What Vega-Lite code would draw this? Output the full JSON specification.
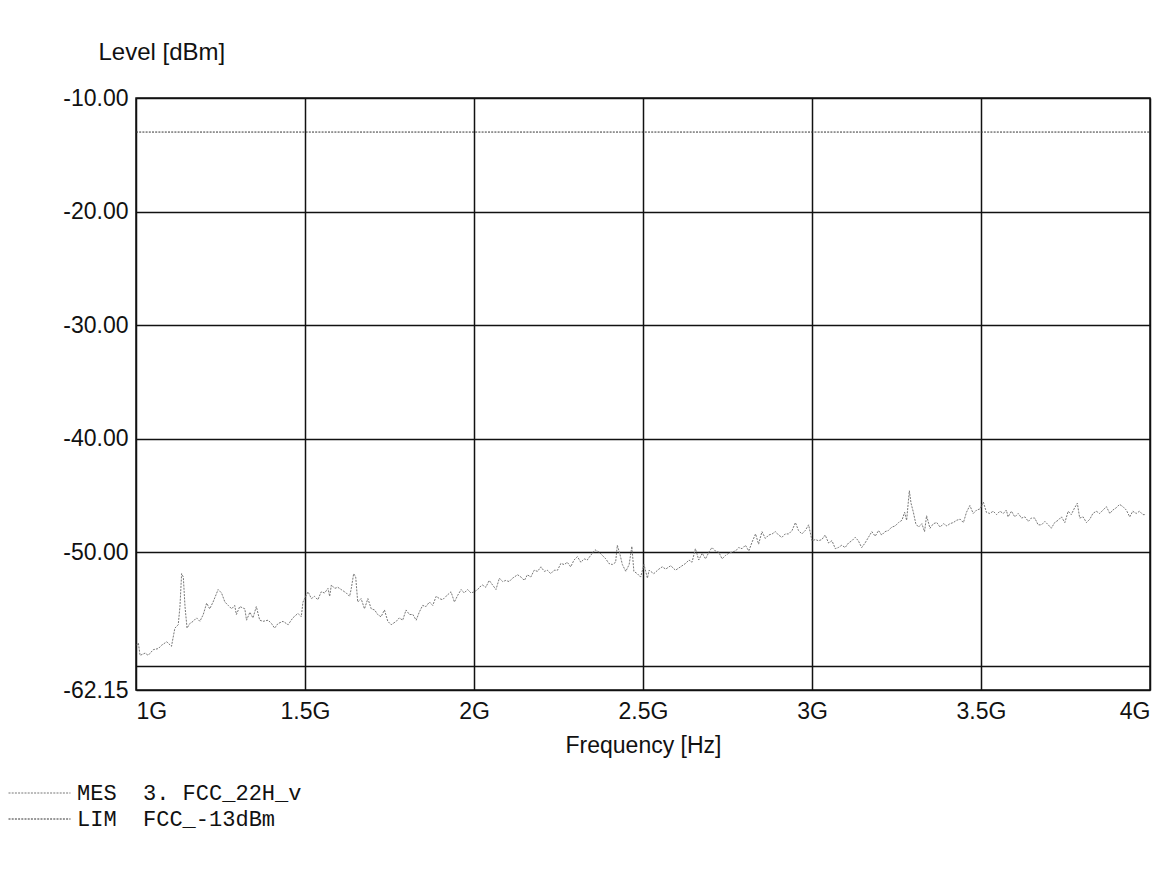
{
  "$schema": "https://vega.github.io/schema/vega-lite/v6.json",
  "width": 1014,
  "height": 592,
  "autosize": {"type": "none"},
  "padding": {"left": 136, "top": 98, "right": 8, "bottom": 203},
  "background": "white",
  "config": {
    "font": "Liberation Sans",
    "view": {"stroke": "#111", "strokeWidth": 1.5},
    "axis": {
      "domain": false, "ticks": false, "tickSize": 0,
      "gridColor": "#111", "gridWidth": 1.5, "gridOpacity": 1,
      "labelFont": "Liberation Sans", "labelFontSize": 23, "labelColor": "#111",
      "titleFont": "Liberation Sans", "titleFontSize": 23, "titleFontWeight": "normal", "titleColor": "#111"
    }
  },
  "data": {"values": [
    {"s":"MES","f":1.002,"v":-58.2},{"s":"MES","f":1.007,"v":-58.0},{"s":"MES","f":1.012,"v":-59.1},{"s":"MES","f":1.027,"v":-58.9},{"s":"MES","f":1.036,"v":-59.1},{"s":"MES","f":1.051,"v":-58.6},{"s":"MES","f":1.066,"v":-58.5},{"s":"MES","f":1.076,"v":-58.2},{"s":"MES","f":1.091,"v":-57.9},{"s":"MES","f":1.105,"v":-58.3},{"s":"MES","f":1.115,"v":-56.7},{"s":"MES","f":1.125,"v":-56.4},{"s":"MES","f":1.130,"v":-54.8},{"s":"MES","f":1.135,"v":-51.9},{"s":"MES","f":1.140,"v":-52.2},{"s":"MES","f":1.145,"v":-54.8},{"s":"MES","f":1.151,"v":-56.7},{"s":"MES","f":1.159,"v":-56.3},{"s":"MES","f":1.169,"v":-56.1},{"s":"MES","f":1.179,"v":-55.8},{"s":"MES","f":1.189,"v":-56.1},{"s":"MES","f":1.199,"v":-55.5},{"s":"MES","f":1.209,"v":-54.5},{"s":"MES","f":1.218,"v":-55.0},{"s":"MES","f":1.228,"v":-54.4},{"s":"MES","f":1.243,"v":-53.3},{"s":"MES","f":1.253,"v":-53.6},{"s":"MES","f":1.263,"v":-54.4},{"s":"MES","f":1.273,"v":-54.7},{"s":"MES","f":1.283,"v":-55.0},{"s":"MES","f":1.292,"v":-54.7},{"s":"MES","f":1.297,"v":-55.5},{"s":"MES","f":1.307,"v":-54.8},{"s":"MES","f":1.322,"v":-55.0},{"s":"MES","f":1.327,"v":-56.0},{"s":"MES","f":1.337,"v":-55.3},{"s":"MES","f":1.346,"v":-55.8},{"s":"MES","f":1.356,"v":-54.8},{"s":"MES","f":1.366,"v":-56.0},{"s":"MES","f":1.376,"v":-56.1},{"s":"MES","f":1.391,"v":-56.0},{"s":"MES","f":1.401,"v":-56.3},{"s":"MES","f":1.410,"v":-56.7},{"s":"MES","f":1.420,"v":-56.3},{"s":"MES","f":1.435,"v":-56.1},{"s":"MES","f":1.450,"v":-56.4},{"s":"MES","f":1.464,"v":-55.8},{"s":"MES","f":1.479,"v":-55.4},{"s":"MES","f":1.489,"v":-55.7},{"s":"MES","f":1.494,"v":-54.4},{"s":"MES","f":1.504,"v":-53.8},
    {"s":"MES","f":1.509,"v":-53.5},{"s":"MES","f":1.519,"v":-54.1},{"s":"MES","f":1.528,"v":-53.9},{"s":"MES","f":1.538,"v":-54.2},{"s":"MES","f":1.548,"v":-53.5},{"s":"MES","f":1.558,"v":-53.6},{"s":"MES","f":1.568,"v":-53.2},{"s":"MES","f":1.573,"v":-53.9},{"s":"MES","f":1.578,"v":-52.9},{"s":"MES","f":1.588,"v":-53.2},{"s":"MES","f":1.597,"v":-53.1},{"s":"MES","f":1.607,"v":-53.3},{"s":"MES","f":1.622,"v":-53.6},{"s":"MES","f":1.632,"v":-53.9},{"s":"MES","f":1.637,"v":-53.2},{"s":"MES","f":1.644,"v":-51.9},{"s":"MES","f":1.650,"v":-52.2},{"s":"MES","f":1.656,"v":-54.4},{"s":"MES","f":1.666,"v":-54.1},{"s":"MES","f":1.676,"v":-55.0},{"s":"MES","f":1.686,"v":-54.1},{"s":"MES","f":1.696,"v":-55.0},{"s":"MES","f":1.706,"v":-55.1},{"s":"MES","f":1.715,"v":-55.5},{"s":"MES","f":1.725,"v":-55.7},{"s":"MES","f":1.735,"v":-55.1},{"s":"MES","f":1.745,"v":-56.1},{"s":"MES","f":1.755,"v":-56.4},{"s":"MES","f":1.770,"v":-56.1},{"s":"MES","f":1.779,"v":-55.8},{"s":"MES","f":1.789,"v":-56.0},{"s":"MES","f":1.799,"v":-55.1},{"s":"MES","f":1.809,"v":-55.5},{"s":"MES","f":1.819,"v":-55.5},{"s":"MES","f":1.829,"v":-56.0},{"s":"MES","f":1.838,"v":-55.3},{"s":"MES","f":1.848,"v":-54.7},{"s":"MES","f":1.858,"v":-54.8},{"s":"MES","f":1.868,"v":-54.4},{"s":"MES","f":1.878,"v":-54.7},{"s":"MES","f":1.888,"v":-53.9},{"s":"MES","f":1.898,"v":-54.1},{"s":"MES","f":1.907,"v":-54.2},{"s":"MES","f":1.917,"v":-53.9},{"s":"MES","f":1.932,"v":-53.5},{"s":"MES","f":1.942,"v":-54.4},{"s":"MES","f":1.952,"v":-53.8},{"s":"MES","f":1.962,"v":-53.3},{"s":"MES","f":1.971,"v":-53.6},{"s":"MES","f":1.981,"v":-53.3},{"s":"MES","f":1.991,"v":-53.6},{"s":"MES","f":2.001,"v":-53.5},{"s":"MES","f":2.011,"v":-53.3},
    {"s":"MES","f":2.016,"v":-53.1},{"s":"MES","f":2.025,"v":-52.9},{"s":"MES","f":2.035,"v":-53.1},{"s":"MES","f":2.045,"v":-52.5},{"s":"MES","f":2.055,"v":-52.9},{"s":"MES","f":2.065,"v":-53.3},{"s":"MES","f":2.075,"v":-52.3},{"s":"MES","f":2.085,"v":-52.6},{"s":"MES","f":2.094,"v":-52.5},{"s":"MES","f":2.104,"v":-52.6},{"s":"MES","f":2.114,"v":-52.3},{"s":"MES","f":2.129,"v":-52.0},{"s":"MES","f":2.139,"v":-52.2},{"s":"MES","f":2.149,"v":-52.5},{"s":"MES","f":2.158,"v":-52.0},{"s":"MES","f":2.168,"v":-52.2},{"s":"MES","f":2.178,"v":-51.6},{"s":"MES","f":2.188,"v":-51.7},{"s":"MES","f":2.198,"v":-51.3},{"s":"MES","f":2.208,"v":-51.7},{"s":"MES","f":2.217,"v":-51.6},{"s":"MES","f":2.227,"v":-51.9},{"s":"MES","f":2.237,"v":-51.6},{"s":"MES","f":2.247,"v":-51.6},{"s":"MES","f":2.257,"v":-51.0},{"s":"MES","f":2.267,"v":-51.1},{"s":"MES","f":2.276,"v":-50.9},{"s":"MES","f":2.286,"v":-51.3},{"s":"MES","f":2.296,"v":-50.7},{"s":"MES","f":2.306,"v":-50.4},{"s":"MES","f":2.316,"v":-50.9},{"s":"MES","f":2.326,"v":-50.6},{"s":"MES","f":2.335,"v":-50.7},{"s":"MES","f":2.345,"v":-50.3},{"s":"MES","f":2.358,"v":-49.8},{"s":"MES","f":2.370,"v":-50.0},{"s":"MES","f":2.380,"v":-50.3},{"s":"MES","f":2.390,"v":-50.6},{"s":"MES","f":2.399,"v":-51.0},{"s":"MES","f":2.409,"v":-51.1},{"s":"MES","f":2.419,"v":-50.9},{"s":"MES","f":2.424,"v":-49.4},{"s":"MES","f":2.431,"v":-50.1},{"s":"MES","f":2.439,"v":-51.1},{"s":"MES","f":2.449,"v":-51.7},{"s":"MES","f":2.459,"v":-51.1},{"s":"MES","f":2.467,"v":-49.5},{"s":"MES","f":2.473,"v":-51.7},{"s":"MES","f":2.483,"v":-51.9},{"s":"MES","f":2.493,"v":-52.2},{"s":"MES","f":2.503,"v":-51.1},{"s":"MES","f":2.513,"v":-52.3},
    {"s":"MES","f":2.518,"v":-51.6},{"s":"MES","f":2.532,"v":-51.9},{"s":"MES","f":2.547,"v":-51.5},{"s":"MES","f":2.557,"v":-51.3},{"s":"MES","f":2.567,"v":-51.5},{"s":"MES","f":2.582,"v":-51.2},{"s":"MES","f":2.596,"v":-51.6},{"s":"MES","f":2.611,"v":-51.3},{"s":"MES","f":2.626,"v":-51.0},{"s":"MES","f":2.636,"v":-50.7},{"s":"MES","f":2.645,"v":-50.9},{"s":"MES","f":2.655,"v":-49.7},{"s":"MES","f":2.665,"v":-50.7},{"s":"MES","f":2.675,"v":-50.1},{"s":"MES","f":2.685,"v":-50.6},{"s":"MES","f":2.695,"v":-50.0},{"s":"MES","f":2.704,"v":-49.6},{"s":"MES","f":2.714,"v":-49.9},{"s":"MES","f":2.724,"v":-50.0},{"s":"MES","f":2.734,"v":-50.6},{"s":"MES","f":2.744,"v":-50.3},{"s":"MES","f":2.754,"v":-50.1},{"s":"MES","f":2.764,"v":-50.0},{"s":"MES","f":2.774,"v":-49.9},{"s":"MES","f":2.783,"v":-49.6},{"s":"MES","f":2.793,"v":-49.7},{"s":"MES","f":2.803,"v":-49.4},{"s":"MES","f":2.813,"v":-49.9},{"s":"MES","f":2.823,"v":-49.1},{"s":"MES","f":2.833,"v":-48.4},{"s":"MES","f":2.842,"v":-49.3},{"s":"MES","f":2.852,"v":-48.2},{"s":"MES","f":2.862,"v":-48.8},{"s":"MES","f":2.872,"v":-48.5},{"s":"MES","f":2.882,"v":-48.4},{"s":"MES","f":2.892,"v":-48.2},{"s":"MES","f":2.901,"v":-48.5},{"s":"MES","f":2.911,"v":-48.7},{"s":"MES","f":2.921,"v":-48.4},{"s":"MES","f":2.931,"v":-48.4},{"s":"MES","f":2.941,"v":-48.1},{"s":"MES","f":2.951,"v":-47.4},{"s":"MES","f":2.960,"v":-48.1},{"s":"MES","f":2.970,"v":-48.4},{"s":"MES","f":2.980,"v":-48.1},{"s":"MES","f":2.990,"v":-47.6},{"s":"MES","f":3.000,"v":-49.0},{"s":"MES","f":3.010,"v":-48.9},
    {"s":"MES","f":3.019,"v":-49.0},{"s":"MES","f":3.029,"v":-48.9},{"s":"MES","f":3.039,"v":-48.5},{"s":"MES","f":3.049,"v":-49.2},{"s":"MES","f":3.059,"v":-49.0},{"s":"MES","f":3.069,"v":-49.7},{"s":"MES","f":3.078,"v":-49.6},{"s":"MES","f":3.088,"v":-49.4},{"s":"MES","f":3.098,"v":-49.6},{"s":"MES","f":3.108,"v":-49.2},{"s":"MES","f":3.118,"v":-49.0},{"s":"MES","f":3.128,"v":-48.7},{"s":"MES","f":3.137,"v":-49.0},{"s":"MES","f":3.147,"v":-49.6},{"s":"MES","f":3.157,"v":-49.2},{"s":"MES","f":3.167,"v":-48.7},{"s":"MES","f":3.177,"v":-48.2},{"s":"MES","f":3.187,"v":-48.6},{"s":"MES","f":3.197,"v":-48.1},{"s":"MES","f":3.206,"v":-48.5},{"s":"MES","f":3.216,"v":-48.2},{"s":"MES","f":3.226,"v":-48.1},{"s":"MES","f":3.236,"v":-47.8},{"s":"MES","f":3.246,"v":-47.7},{"s":"MES","f":3.256,"v":-47.4},{"s":"MES","f":3.266,"v":-47.2},{"s":"MES","f":3.274,"v":-46.5},{"s":"MES","f":3.280,"v":-47.2},{"s":"MES","f":3.288,"v":-44.6},{"s":"MES","f":3.293,"v":-45.7},{"s":"MES","f":3.300,"v":-46.5},{"s":"MES","f":3.307,"v":-47.5},{"s":"MES","f":3.315,"v":-47.8},{"s":"MES","f":3.325,"v":-47.5},{"s":"MES","f":3.333,"v":-48.2},{"s":"MES","f":3.339,"v":-46.8},{"s":"MES","f":3.349,"v":-47.9},{"s":"MES","f":3.359,"v":-47.5},{"s":"MES","f":3.369,"v":-47.4},{"s":"MES","f":3.379,"v":-47.8},{"s":"MES","f":3.389,"v":-47.5},{"s":"MES","f":3.399,"v":-47.7},{"s":"MES","f":3.408,"v":-47.5},{"s":"MES","f":3.418,"v":-47.4},{"s":"MES","f":3.428,"v":-47.2},{"s":"MES","f":3.438,"v":-47.1},{"s":"MES","f":3.448,"v":-47.4},{"s":"MES","f":3.457,"v":-46.5},{"s":"MES","f":3.467,"v":-45.9},{"s":"MES","f":3.477,"v":-46.6},{"s":"MES","f":3.487,"v":-46.3},{"s":"MES","f":3.497,"v":-46.2},{"s":"MES","f":3.507,"v":-45.6},{"s":"MES","f":3.516,"v":-46.5},
    {"s":"MES","f":3.526,"v":-46.6},{"s":"MES","f":3.536,"v":-46.4},{"s":"MES","f":3.546,"v":-46.7},{"s":"MES","f":3.556,"v":-46.4},{"s":"MES","f":3.566,"v":-46.6},{"s":"MES","f":3.575,"v":-46.3},{"s":"MES","f":3.580,"v":-46.9},{"s":"MES","f":3.590,"v":-46.4},{"s":"MES","f":3.600,"v":-46.9},{"s":"MES","f":3.610,"v":-46.6},{"s":"MES","f":3.620,"v":-47.0},{"s":"MES","f":3.630,"v":-46.9},{"s":"MES","f":3.640,"v":-47.3},{"s":"MES","f":3.649,"v":-47.0},{"s":"MES","f":3.659,"v":-47.0},{"s":"MES","f":3.669,"v":-47.6},{"s":"MES","f":3.679,"v":-47.6},{"s":"MES","f":3.689,"v":-47.3},{"s":"MES","f":3.699,"v":-47.6},{"s":"MES","f":3.708,"v":-47.9},{"s":"MES","f":3.718,"v":-47.4},{"s":"MES","f":3.728,"v":-47.2},{"s":"MES","f":3.738,"v":-46.9},{"s":"MES","f":3.748,"v":-47.4},{"s":"MES","f":3.758,"v":-46.4},{"s":"MES","f":3.767,"v":-46.7},{"s":"MES","f":3.777,"v":-46.1},{"s":"MES","f":3.785,"v":-45.7},{"s":"MES","f":3.792,"v":-47.0},{"s":"MES","f":3.802,"v":-46.9},{"s":"MES","f":3.812,"v":-47.4},{"s":"MES","f":3.822,"v":-47.1},{"s":"MES","f":3.831,"v":-46.6},{"s":"MES","f":3.841,"v":-46.4},{"s":"MES","f":3.851,"v":-46.6},{"s":"MES","f":3.861,"v":-46.3},{"s":"MES","f":3.871,"v":-46.0},{"s":"MES","f":3.881,"v":-46.6},{"s":"MES","f":3.890,"v":-46.3},{"s":"MES","f":3.900,"v":-46.1},{"s":"MES","f":3.910,"v":-45.8},{"s":"MES","f":3.920,"v":-46.0},{"s":"MES","f":3.930,"v":-46.3},{"s":"MES","f":3.940,"v":-46.9},{"s":"MES","f":3.949,"v":-46.4},{"s":"MES","f":3.959,"v":-46.6},{"s":"MES","f":3.969,"v":-46.4},{"s":"MES","f":3.979,"v":-46.7},{"s":"MES","f":3.988,"v":-46.7},
    {"s":"LIM","f":1.0,"v":-13.0},{"s":"LIM","f":4.0,"v":-13.0}
  ]},
  "mark": {"type": "line", "strokeWidth": 1, "strokeDash": [2, 1.2], "clip": true},
  "encoding": {
    "x": {
      "field": "f", "type": "quantitative",
      "scale": {"domain": [1, 4], "nice": false, "zero": false},
      "axis": {
        "values": [1, 1.5, 2, 2.5, 3, 3.5, 4],
        "labelExpr": "datum.value + 'G'",
        "labelPadding": 10, "labelFlush": true,
        "title": "Frequency [Hz]", "titleX": 507, "titleY": 55, "titleBaseline": "middle"
      }
    },
    "y": {
      "field": "v", "type": "quantitative",
      "scale": {"domain": [-62.15, -10], "nice": false, "zero": false},
      "axis": {
        "values": [-62.15, -60, -50, -40, -30, -20, -10],
        "labelExpr": "datum.value == -60 ? '' : replace(format(datum.value, '.2f'), '\u2212', '-')",
        "labelPadding": 8,
        "title": "Level [dBm]", "titleAngle": 0, "titleAlign": "left", "titleBaseline": "middle",
        "titleFontSize": 24, "titleX": -38, "titleY": -46
      }
    },
    "color": {
      "field": "s", "type": "nominal",
      "scale": {"domain": ["MES", "LIM"], "range": ["#777777", "#333333"]},
      "legend": {
        "orient": "none", "legendX": -128, "legendY": 682,
        "title": null,
        "symbolType": "stroke", "symbolSize": 3844, "symbolStrokeWidth": 1, "symbolDash": [2, 1.2],
        "labelExpr": "datum.value == 'MES' ? 'MES\u00a0\u00a03.\u00a0FCC_22H_v' : 'LIM\u00a0\u00a0FCC_-13dBm'",
        "labelFont": "Liberation Mono", "labelFontSize": 22, "labelColor": "#111", "labelLimit": 800,
        "labelOffset": 6, "rowPadding": 0, "clipHeight": 26
      }
    }
  }
}
